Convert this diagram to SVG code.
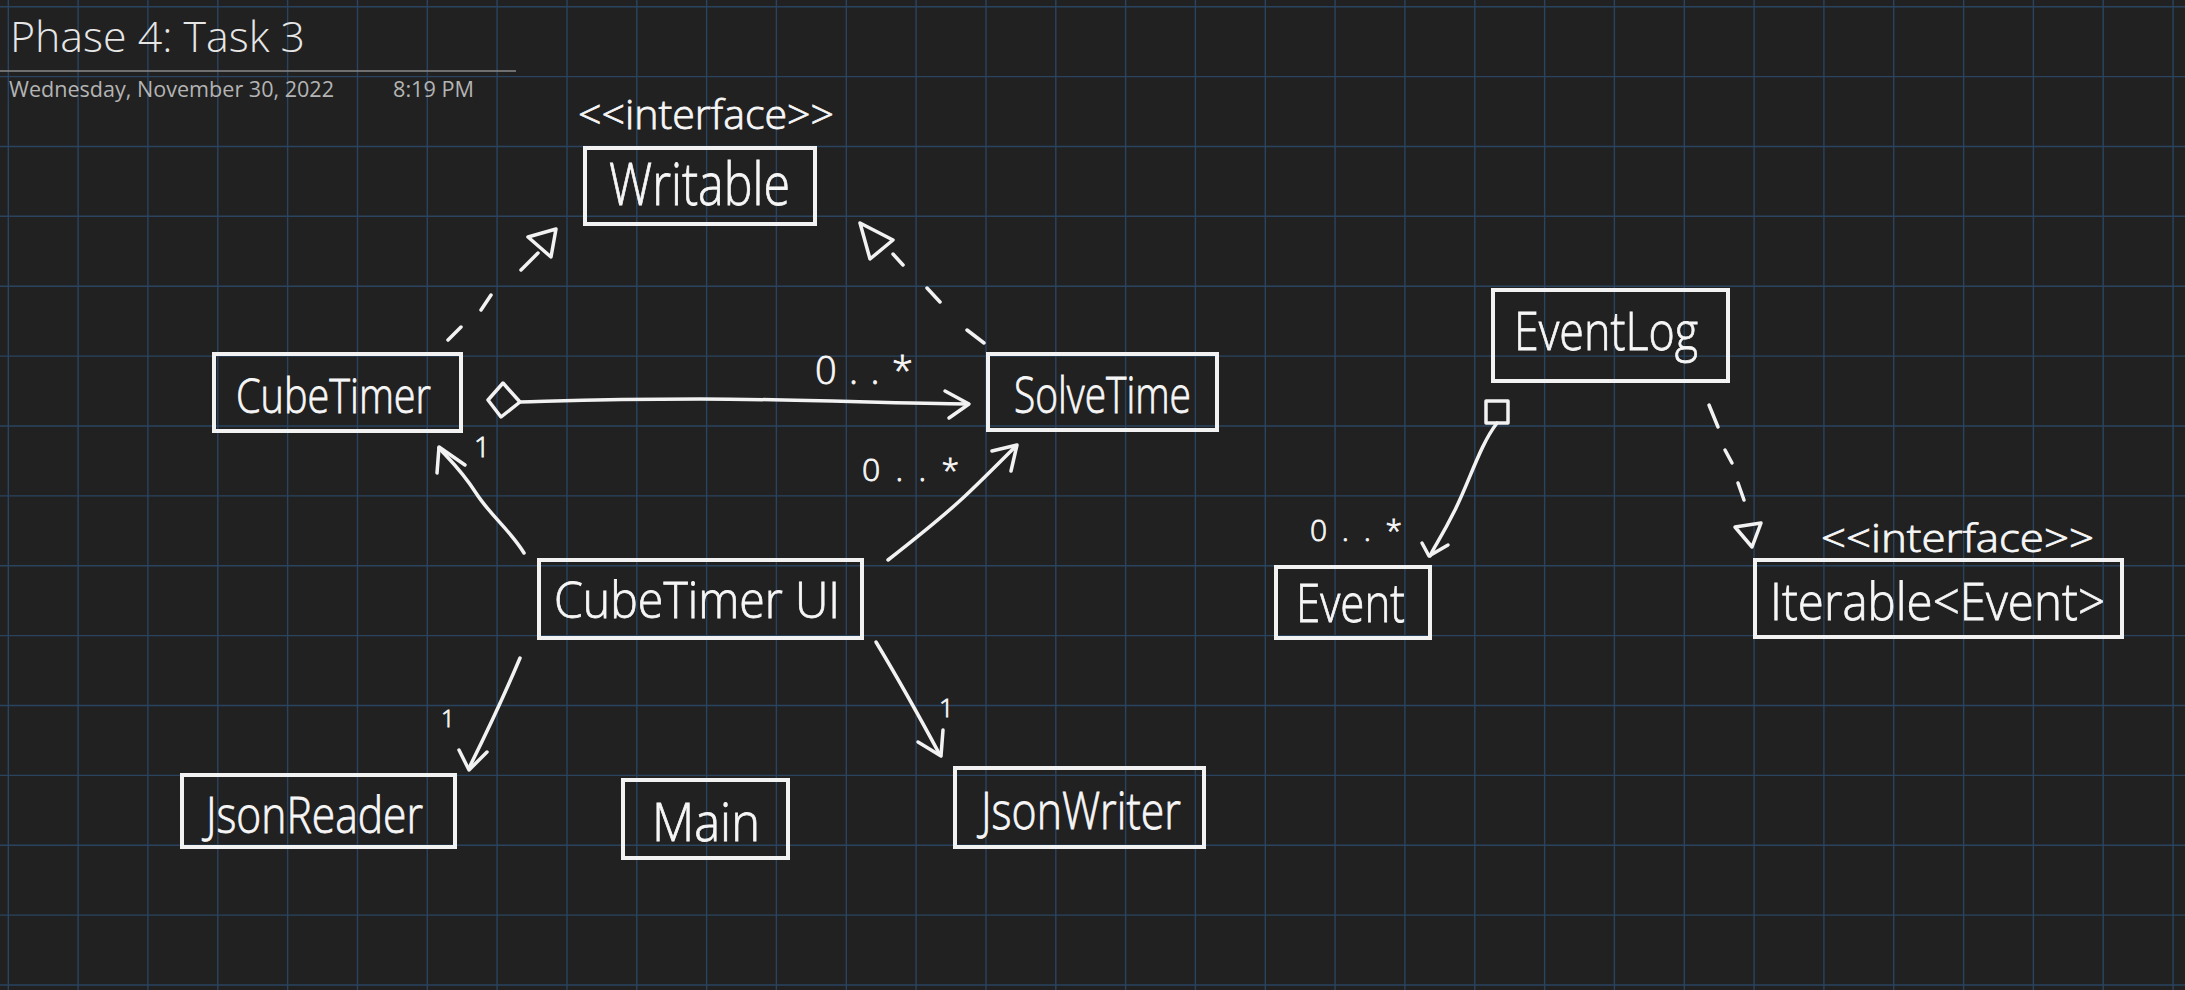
<svg xmlns="http://www.w3.org/2000/svg" width="2185" height="990" viewBox="0 0 2185 990">
<defs>
<style>
.bg{fill:#212121}
.grid{stroke:#2a4460;stroke-width:1.4;fill:none}
.box{fill:none;stroke:#f2f2f2;stroke-width:4}
.hw{font-family:"Open Sans","Liberation Sans",sans-serif;font-weight:300;fill:#f6f6f6;stroke:#f6f6f6;stroke-width:0.8}
.ln{fill:none;stroke:#f2f2f2;stroke-width:3.5;stroke-linecap:round;stroke-linejoin:round}
.head{font-family:"Open Sans","Noto Sans",sans-serif;font-weight:300;fill:#e6e6e6}
.sub{font-family:"Open Sans","Noto Sans",sans-serif;fill:#b4b4b4}
</style>
</defs>
<rect class="bg" x="0" y="0" width="2185" height="990"/>
<g id="grid" class="grid">
<path d="M8.3,0V990M78.1,0V990M147.9,0V990M217.8,0V990M287.6,0V990M357.5,0V990M427.3,0V990M497.1,0V990M567,0V990M636.8,0V990M706.6,0V990M776.4,0V990M846.3,0V990M916.1,0V990M986,0V990M1055.8,0V990M1125.6,0V990M1195.4,0V990M1265.3,0V990M1335.1,0V990M1404.9,0V990M1474.8,0V990M1544.6,0V990M1614.4,0V990M1684.3,0V990M1754.1,0V990M1823.9,0V990M1893.7,0V990M1963.6,0V990M2033.4,0V990M2103.2,0V990M2173.1,0V990"/>
<path d="M0,6.7H2185M0,76.6H2185M0,146.5H2185M0,216.3H2185M0,286.2H2185M0,356.1H2185M0,426H2185M0,495.9H2185M0,565.7H2185M0,635.6H2185M0,705.5H2185M0,775.4H2185M0,845.3H2185M0,915.1H2185M0,985H2185"/>
</g>
<g id="header">
<text class="head" x="10" y="52" font-size="43" textLength="295" lengthAdjust="spacingAndGlyphs">Phase 4: Task 3</text>
<line x1="0" y1="71" x2="516" y2="71" stroke="#8a8a8a" stroke-width="1.5"/>
<text class="sub" x="9" y="97" font-size="22" textLength="325" lengthAdjust="spacingAndGlyphs">Wednesday, November 30, 2022</text>
<text class="sub" x="393" y="97" font-size="22" textLength="81" lengthAdjust="spacingAndGlyphs">8:19 PM</text>
</g>
<g id="connectors">
<g id="c-cubetimer-writable">
<path class="ln" d="M448,340L461,327M481,310L491,295M521,270L538,253"/>
<path class="ln" d="M528,237L556,229L551,257Z"/>
</g>
<g id="c-solvetime-writable">
<path class="ln" d="M984,343L967,330M940,302L927,288M903,265L893,254"/>
<path class="ln" d="M860,223L893,240L870,259Z"/>
</g>
<g id="c-cubetimer-solvetime">
<path class="ln" d="M488,400L503,383L520,402L501,417Z"/>
<path class="ln" d="M520,402C560,401 600,399 700,399S900,404 968,404"/>
<path class="ln" d="M945,391L969,404L949,418"/>
<text class="hw" x="815" y="384" font-size="38" textLength="98" lengthAdjust="spacing">0..*</text>
</g>
<g id="c-ui-cubetimer">
<path class="ln" d="M524,553C510,530 490,515 476,493S450,460 439,448"/>
<path class="ln" d="M437,473L439,447L465,465"/>
<text class="hw" x="474" y="457" font-size="28">1</text>
</g>
<g id="c-ui-solvetime">
<path class="ln" d="M888,560C920,535 950,510 964,497S1000,462 1016,446"/>
<path class="ln" d="M992,451L1017,445L1011,471"/>
<text class="hw" x="862" y="481" font-size="32" textLength="97" lengthAdjust="spacing">0..*</text>
</g>
<g id="c-ui-jsonreader">
<path class="ln" d="M520,658Q498,710 469,768"/>
<path class="ln" d="M459,750L469,770L487,752"/>
<text class="hw" x="441" y="727" font-size="24">1</text>
</g>
<g id="c-ui-jsonwriter">
<path class="ln" d="M876,642Q905,690 940,755"/>
<path class="ln" d="M918,742L941,756L943,730"/>
<text class="hw" x="939" y="717" font-size="26">1</text>
</g>
<g id="c-eventlog-event">
<rect class="ln" x="1486" y="401" width="22" height="22"/>
<path class="ln" d="M1497,423C1480,445 1470,480 1455,510S1435,545 1430,556"/>
<path class="ln" d="M1422,543L1429,556L1448,545"/>
<text class="hw" x="1310" y="541" font-size="30" textLength="92" lengthAdjust="spacing">0..*</text>
</g>
<g id="c-eventlog-iterable">
<path class="ln" d="M1709,405L1718,427M1725,450L1732,463M1738,483L1744,500"/>
<path class="ln" d="M1735,527L1761,523L1752,547Z"/>
</g>
</g>
<g id="n-writable">
<text class="hw" x="578" y="129" font-size="40" textLength="256" lengthAdjust="spacingAndGlyphs">&lt;&lt;interface&gt;&gt;</text>
<rect class="box" x="585" y="148" width="230" height="76"/>
<text class="hw" x="609" y="205" font-size="58" textLength="181" lengthAdjust="spacingAndGlyphs">Writable</text>
</g>
<g id="n-cubetimer">
<rect class="box" x="214" y="354" width="247" height="77"/>
<text class="hw" x="236" y="413" font-size="48" textLength="195" lengthAdjust="spacingAndGlyphs">CubeTimer</text>
</g>
<g id="n-solvetime">
<rect class="box" x="988" y="354" width="229" height="76"/>
<text class="hw" x="1014" y="413" font-size="50" textLength="177" lengthAdjust="spacingAndGlyphs">SolveTime</text>
</g>
<g id="n-cubetimerui">
<rect class="box" x="539" y="560" width="323" height="78"/>
<text class="hw" x="554" y="618" font-size="50" textLength="286" lengthAdjust="spacingAndGlyphs">CubeTimer UI</text>
</g>
<g id="n-jsonreader">
<rect class="box" x="182" y="775" width="273" height="72"/>
<text class="hw" x="206" y="833" font-size="50" textLength="217" lengthAdjust="spacingAndGlyphs">JsonReader</text>
</g>
<g id="n-main">
<rect class="box" x="623" y="780" width="165" height="78"/>
<text class="hw" x="652" y="841" font-size="54" textLength="108" lengthAdjust="spacingAndGlyphs">Main</text>
</g>
<g id="n-jsonwriter">
<rect class="box" x="955" y="768" width="249" height="79"/>
<text class="hw" x="981" y="829" font-size="52" textLength="200" lengthAdjust="spacingAndGlyphs">JsonWriter</text>
</g>
<g id="n-eventlog">
<rect class="box" x="1493" y="290" width="235" height="91"/>
<text class="hw" x="1514" y="350" font-size="54" textLength="184" lengthAdjust="spacingAndGlyphs">EventLog</text>
</g>
<g id="n-event">
<rect class="box" x="1276" y="567" width="154" height="71"/>
<text class="hw" x="1296" y="622" font-size="54" textLength="109" lengthAdjust="spacingAndGlyphs">Event</text>
</g>
<g id="n-iterable">
<text class="hw" x="1821" y="552" font-size="38" textLength="273" lengthAdjust="spacingAndGlyphs">&lt;&lt;interface&gt;&gt;</text>
<rect class="box" x="1755" y="560" width="367" height="77"/>
<text class="hw" x="1770" y="620" font-size="52" textLength="335" lengthAdjust="spacingAndGlyphs">Iterable&lt;Event&gt;</text>
</g>
</svg>
